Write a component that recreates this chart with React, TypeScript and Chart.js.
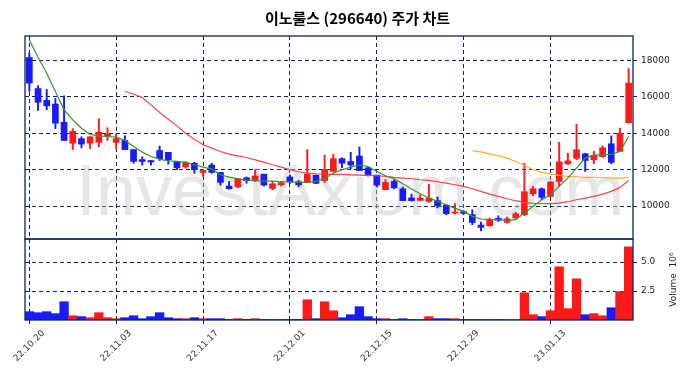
import React, { useEffect, useRef } from 'react';
import { Chart, registerables } from 'chart.js';

Chart.register(...registerables);

const TITLE = '이노룰스 (296640) 주가 차트';
const WATERMARK = 'InvestAxiom.com';

const DATES = [
  '22.10.20', '22.10.21', '22.10.24', '22.10.25', '22.10.26', '22.10.27', '22.10.28', '22.10.31', '22.11.01', '22.11.02',
  '22.11.03', '22.11.04', '22.11.07', '22.11.08', '22.11.09', '22.11.10', '22.11.11', '22.11.14', '22.11.15', '22.11.16',
  '22.11.17', '22.11.18', '22.11.21', '22.11.22', '22.11.23', '22.11.24', '22.11.25', '22.11.28', '22.11.29', '22.11.30',
  '22.12.01', '22.12.02', '22.12.05', '22.12.06', '22.12.07', '22.12.08', '22.12.09', '22.12.12', '22.12.13', '22.12.14',
  '22.12.15', '22.12.16', '22.12.19', '22.12.20', '22.12.21', '22.12.22', '22.12.23', '22.12.26', '22.12.27', '22.12.28',
  '22.12.29', '23.01.02', '23.01.03', '23.01.04', '23.01.05', '23.01.06', '23.01.09', '23.01.10', '23.01.11', '23.01.12',
  '23.01.13', '23.01.16', '23.01.17', '23.01.18', '23.01.19', '23.01.20', '23.01.25', '23.01.26', '23.01.27', '23.01.30',
];

const TICK_DATES = ['22.10.20', '22.11.03', '22.11.17', '22.12.01', '22.12.15', '22.12.29', '23.01.13'];

const OPEN = [
  18150, 16450, 15800, 15600, 14600, 13450, 13700, 13450, 13500, 13850,
  13500, 13600, 13100, 12550, 12500, 13050, 12950, 12450, 12150, 12350,
  11850, 12250, 11850, 11100, 11050, 11550, 11400, 11750, 10970, 11170,
  11600, 11330, 11300, 11700, 11400, 11900, 12600, 12450, 12750, 12100,
  11700, 10900, 11350, 10950, 10450, 10310, 10260, 10300, 10050, 9620,
  9690, 9530, 8960, 8920, 9330, 9110, 9350, 9530, 10680, 10950,
  10530, 11350, 12320, 12620, 12870, 12540, 12720, 13420, 13000, 14580,
];
const HIGH = [
  18400, 16600, 16400, 15900, 16050, 14250, 13800, 13800, 14800, 14300,
  13950, 13850, 13100, 12700, 12500, 13300, 12950, 12450, 12450, 12400,
  12000, 12350, 11850, 11350, 11500, 11600, 12000, 11750, 11350, 11350,
  11700, 11400, 13100, 11700, 12800, 12850, 12650, 12950, 13250, 12150,
  11700, 11450, 11450, 11050, 10650, 10620, 11200, 10500, 10080, 10130,
  9750, 9800, 9120, 9350, 9470, 9400, 9650, 12350, 11080, 11000,
  11350, 13500, 12900, 14500, 12900, 13000, 13300, 13850, 14280, 17550,
];
const LOW = [
  16300, 15250, 15280, 14250, 13600, 13100, 13200, 13150, 13250, 13600,
  13150, 13100, 12350, 12250, 12250, 12500, 12300, 12000, 12080, 11800,
  11600, 11800, 11150, 10930, 11000, 11250, 11350, 11100, 10900, 11100,
  11250, 11050, 11300, 11230, 11300, 11900, 12100, 12050, 11950, 11650,
  11050, 10900, 10950, 10300, 10270, 10300, 10200, 9900, 9530, 9560,
  9560, 8980, 8640, 8900, 9160, 9070, 9320, 9470, 10570, 10350,
  10500, 11100, 12270, 12540, 11900, 12320, 12680, 12320, 13000, 14550,
];
const CLOSE = [
  16750, 15700, 15500, 14550, 13600, 14100, 13400, 13800, 14050, 13950,
  13700, 13100, 12450, 12450, 12420, 12600, 12550, 12100, 12380, 12000,
  11950, 11850, 11300, 10950, 11500, 11400, 11650, 11150, 11220, 11280,
  11320, 11170, 11750, 11250, 12000, 12600, 12350, 12250, 11950, 11700,
  11150, 11300, 11000, 10300, 10300, 10440, 10440, 10020, 9580, 9670,
  9600, 9100, 8830, 9250, 9220, 9300, 9580, 10790, 10950, 10480,
  11320, 12430, 12480, 13090, 12500, 12780, 13200, 12400, 14000, 16750,
];
const VOLUME = [
  720000, 630000, 720000, 550000, 1580000, 370000, 290000, 200000, 630000, 200000,
  115000, 200000, 370000, 115000, 290000, 630000, 200000, 115000, 115000, 200000,
  115000, 115000, 115000, 50000, 115000, 50000, 115000, 50000, 50000, 50000,
  50000, 50000, 1750000, 115000, 1580000, 800000, 200000, 460000, 1150000, 290000,
  115000, 115000, 50000, 115000, 50000, 50000, 290000, 115000, 115000, 115000,
  40000, 40000, 40000, 40000, 40000, 40000, 40000, 2360000, 460000, 290000,
  800000, 4600000, 980000, 3560000, 460000, 550000, 370000, 1060000, 2440000, 6320000,
];
const MA5 = [
  19114, 18164, 17288, 16283, 15279, 14730, 14275, 13928, 13855, 13818,
  13782, 13600, 13270, 12960, 12723, 12577, 12485, 12449, 12394, 12266,
  12138, 12029, 11718, 11591, 11500, 11426, 11390, 11372, 11372, 11335,
  11335, 11298, 11317, 11353, 11500, 11810, 11992, 12138, 12266, 12175,
  11901, 11664, 11500, 11225, 10933, 10678, 10440, 10258, 10075, 9874,
  9710, 9436, 9290, 9253, 9253, 9217, 9253, 9618, 9984, 10349,
  10623, 11080, 11536, 12084, 12632, 12796, 12832, 12832, 12997, 13818,
];
const MA20 = [
  null, null, null, null, null, null, null, null, null, null, null,
  16302, 16137, 15955, 15553, 15133, 14768, 14403, 14001, 13672, 13362,
  13179, 12997, 12850, 12759, 12668, 12540, 12412, 12266, 12138, 11992,
  11883, 11810, 11773, 11755, 11737, 11737, 11718, 11700, 11682, 11664,
  11627, 11573, 11536, 11500, 11445, 11408, 11335, 11262, 11170, 11080,
  10952, 10806, 10660, 10532, 10404, 10295, 10203, 10148, 10130, 10130,
  10166, 10240, 10349, 10440, 10532, 10660, 10806, 11025, 11408,
];
const MA60 = [
  null, null, null, null, null, null, null, null, null, null,
  null, null, null, null, null, null, null, null, null, null,
  null, null, null, null, null, null, null, null, null, null,
  null, null, null, null, null, null, null, null, null, null,
  null, null, null, null, null, null, null, null, null, null,
  null,
  13033, 12978, 12869, 12759, 12632, 12449, 12230, 11992, 11846, 11755,
  11682, 11627, 11609, 11573, 11573, 11555, 11536, 11536, 11573,
];

const PRICE_TICKS = [10000, 12000, 14000, 16000, 18000];
const PRICE_MIN = 8194;
const PRICE_MAX = 19333;
const VOLUME_TICKS = [2500000, 5000000];
const VOLUME_MAX = 7000000;

const NAVY = '#0c2466';
const UP = 'rgb(255,26,26)';
const DOWN = 'rgb(26,26,255)';
const TICK_FONT = { family: 'DejaVu Sans', size: 9 };

const panelPlugin = {
  id: 'panels',
  beforeDatasetsDraw(chart: any) {
    const { ctx, chartArea } = chart;
    const y = chart.scales.y;
    ctx.save();
    ctx.beginPath();
    ctx.rect(chartArea.left, y.top, chartArea.right - chartArea.left, y.bottom - y.top);
    ctx.clip();
    ctx.font = '72px "Liberation Sans"';
    ctx.fillStyle = 'rgba(200,200,200,0.45)';
    ctx.textBaseline = 'alphabetic';
    ctx.textAlign = 'left';
    ctx.fillText(WATERMARK, 76, 215);
    ctx.restore();
  },
  afterDraw(chart: any) {
    const { ctx, chartArea } = chart;
    const y = chart.scales.y;
    const yv = chart.scales.yv;
    ctx.save();
    ctx.strokeStyle = NAVY;
    ctx.lineWidth = 1.3;
    ctx.setLineDash([]);
    ctx.strokeRect(chartArea.left, y.top, chartArea.right - chartArea.left, y.bottom - y.top);
    ctx.strokeRect(chartArea.left, yv.top, chartArea.right - chartArea.left, yv.bottom - yv.top);
    ctx.fillStyle = '#222';
    ctx.font = '9px "DejaVu Sans"';
    ctx.translate(674, (yv.top + yv.bottom) / 2);
    ctx.rotate(-Math.PI / 2);
    ctx.textAlign = 'center';
    ctx.textBaseline = 'middle';
    ctx.fillText('Volume  10⁶', 0, 0);
    ctx.restore();
  },
};

export default function App() {
  const ref = useRef<HTMLCanvasElement>(null);
  useEffect(() => {
    const colors = OPEN.map((o, i) => (CLOSE[i] >= o ? UP : DOWN));
    const chart = new Chart(ref.current as HTMLCanvasElement, {
      type: 'bar',
      data: {
        labels: DATES,
        datasets: [
          { type: 'line', label: 'MA5', data: MA5, borderColor: 'rgb(45,150,45)', borderWidth: 1.2, pointRadius: 0, yAxisID: 'y', order: 0 } as any,
          { type: 'line', label: 'MA20', data: MA20, borderColor: 'rgb(245,70,70)', borderWidth: 1.2, pointRadius: 0, yAxisID: 'y', order: 0 } as any,
          { type: 'line', label: 'MA60', data: MA60, borderColor: 'rgb(255,175,40)', borderWidth: 1.2, pointRadius: 0, yAxisID: 'y', order: 0 } as any,
          { type: 'bar', label: 'body', data: OPEN.map((o, i) => [o, CLOSE[i]]), backgroundColor: colors, barThickness: 6, grouped: false, minBarLength: 1, yAxisID: 'y', order: 1 } as any,
          { type: 'bar', label: 'wick', data: LOW.map((l, i) => [l, HIGH[i]]), backgroundColor: colors, barThickness: 1.3, grouped: false, yAxisID: 'y', order: 2 } as any,
          { type: 'bar', label: 'volume', data: VOLUME, backgroundColor: colors, barPercentage: 1, categoryPercentage: 1, grouped: false, yAxisID: 'yv', order: 3 } as any,
        ],
      },
      options: {
        responsive: false,
        animation: false,
        devicePixelRatio: 1,
        layout: { padding: { left: 25, right: 0, top: 0, bottom: 0 } },
        plugins: {
          legend: { display: false },
          tooltip: { enabled: false },
          title: {
            display: true,
            text: TITLE,
            color: '#000',
            font: { family: 'Noto Sans CJK KR', size: 15, weight: 'bold' },
            padding: { top: 9, bottom: 9 },
          },
        },
        scales: {
          x: {
            type: 'category',
            offset: true,
            afterBuildTicks: (s: any) => {
              s.ticks = TICK_DATES.map((d) => ({ value: DATES.indexOf(d) }));
            },
            afterFit: (s: any) => {
              s.height = 58;
              s.paddingLeft = 0;
              s.paddingRight = 0;
            },
            grid: { offset: false, color: NAVY, lineWidth: 1, tickLength: 4, tickColor: NAVY, tickBorderDash: [], drawTicks: true },
            border: { display: false, dash: [4, 3] },
            ticks: {
              autoSkip: false,
              maxRotation: 45,
              minRotation: 45,
              labelOffset: 14,
              padding: 4,
              color: '#333',
              font: TICK_FONT,
              callback: (v: any) => DATES[v],
            },
          },
          y: {
            type: 'linear',
            position: 'right',
            stack: 'pane',
            stackWeight: 203,
            min: PRICE_MIN,
            max: PRICE_MAX,
            afterBuildTicks: (s: any) => {
              s.ticks = PRICE_TICKS.map((v) => ({ value: v }));
            },
            afterFit: (s: any) => {
              s.width = 57;
              s.paddingTop = 0;
              s.paddingBottom = 0;
            },
            grid: { color: NAVY, lineWidth: 1, tickLength: 4, tickColor: NAVY, tickBorderDash: [] },
            border: { display: false, dash: [4, 3] },
            ticks: { color: '#222', font: TICK_FONT, padding: 4, callback: (v: any) => String(v) },
          },
          yv: {
            type: 'linear',
            position: 'right',
            stack: 'pane',
            stackWeight: 81,
            min: 0,
            max: VOLUME_MAX,
            afterBuildTicks: (s: any) => {
              s.ticks = VOLUME_TICKS.map((v) => ({ value: v }));
            },
            afterFit: (s: any) => {
              s.width = 57;
              s.paddingTop = 0;
              s.paddingBottom = 0;
            },
            grid: { color: NAVY, lineWidth: 1, tickLength: 4, tickColor: NAVY, tickBorderDash: [] },
            border: { display: false, dash: [4, 3] },
            ticks: { color: '#222', font: TICK_FONT, padding: 4, callback: (v: any) => (v / 1e6).toFixed(1) },
          },
        },
      },
      plugins: [panelPlugin],
    });
    return () => chart.destroy();
  }, []);
  return (
    <canvas
      ref={ref}
      width={690}
      height={378}
      style={{ position: 'fixed', left: 0, top: 0, width: 690, height: 378 }}
    />
  );
}
